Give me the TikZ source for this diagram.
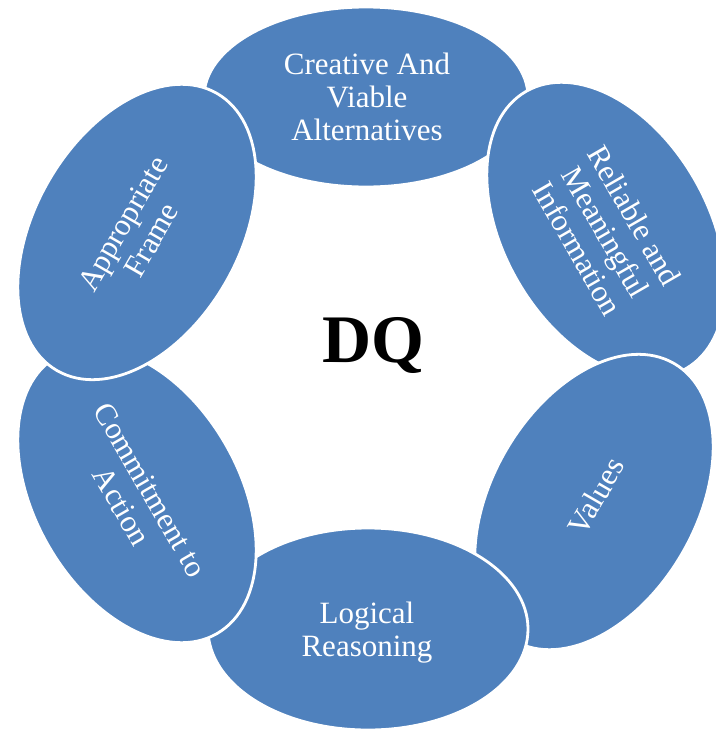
\documentclass[tikz,border=0pt]{standalone}
\usepackage{fontspec}
\setmainfont{Liberation Serif}
\usetikzlibrary{shapes.geometric}
\definecolor{dqblue}{RGB}{79,129,189}
\begin{document}
\begin{tikzpicture}[x=1pt,y=-1pt,
  petal/.style={ellipse, fill=dqblue, draw=white, line width=2.8pt, inner sep=0pt, outer sep=0pt},
  ptext/.style={text=white, font=\fontsize{31}{33}\selectfont, align=center, inner sep=0pt}]
\useasboundingbox (0,0) rectangle (715,731);
% petals, drawn in stacking order
\node[petal, minimum width=324pt, minimum height=180pt] (e1) at (366,97) {};
\node[petal, minimum width=320pt, minimum height=204pt, rotate=-60] (e2) at (606,230) {};
\node[petal, minimum width=320pt, minimum height=204pt, rotate=60] (e3) at (594,502) {};
\node[petal, minimum width=320pt, minimum height=202pt] (e4) at (368,629) {};
\node[petal, minimum width=320pt, minimum height=204pt, rotate=-60] (e5) at (137,495) {};
\node[petal, minimum width=320pt, minimum height=204pt, rotate=60] (e6) at (137,232) {};
% labels
\node[ptext] (t1) at (367,96.5) {Creative And\\Viable\\Alternatives};
\node[ptext, rotate=-60] (t2) at (606,232) {Reliable and\\Meaningful\\Information};
\node[ptext, rotate=60] (t3) at (596,496) {Values};
\node[ptext] (t4) at (367,633) {Logical\\Reasoning};
\node[ptext, rotate=-60] (t5) at (136,498) {Commitment to\\Action};
\node[ptext, rotate=60] (t6) at (137,232) {Appropriate\\Frame};
\node[font=\bfseries\fontsize{68}{70}\selectfont, anchor=base, inner sep=0pt] (dq) at (373.5,362) {DQ};
\end{tikzpicture}
\end{document}
